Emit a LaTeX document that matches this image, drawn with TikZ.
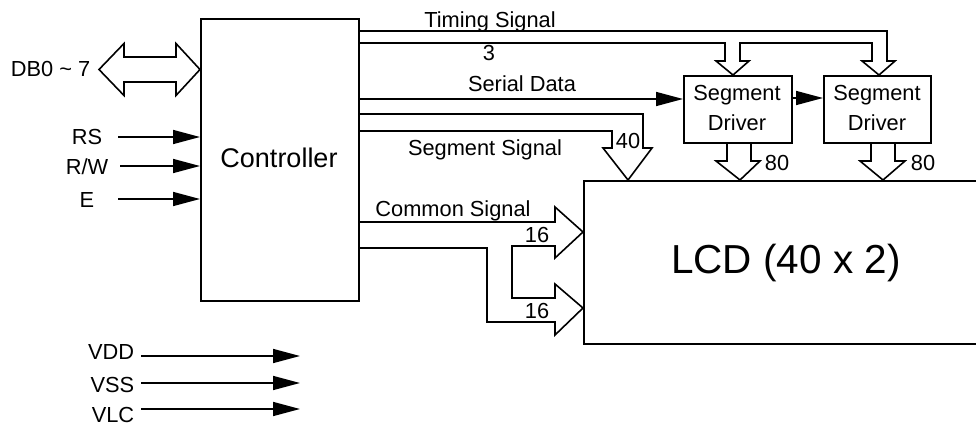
\documentclass[tikz,border=0pt]{standalone}
\usepackage{fontspec}
\setmainfont{Liberation Sans}
\usetikzlibrary{arrows.meta}
\begin{document}
\begin{tikzpicture}[x=1pt,y=-1pt,line width=1.6pt,line join=miter,
  sig/.style={-{Triangle[length=27pt,width=14pt]}},
  blk/.style={draw,line width=1.6pt,anchor=north west,inner sep=0pt},
  lbl/.style={font=\fontsize{21.8}{25}\selectfont,inner sep=0pt}]
\path[use as bounding box] (0,0) rectangle (976,428);
\clip (0,0) rectangle (976,428);
% blocks
\node[blk,minimum width=158pt,minimum height=282pt] (ctrl) at (200,18) {};
\node[lbl,font=\fontsize{27}{30}\selectfont,anchor=base] (ctrlt) at (279,167) {Controller};
\node[blk,minimum width=108pt,minimum height=67pt] (sd1) at (683,75) {};
\node[blk,minimum width=107pt,minimum height=67pt] (sd2) at (823,75) {};
\node[lbl,anchor=base] (sd1a) at (737,100) {Segment};
\node[lbl,anchor=base] (sd1b) at (737,130) {Driver};
\node[lbl,anchor=base] (sd2a) at (877,100) {Segment};
\node[lbl,anchor=base] (sd2b) at (877,130) {Driver};
\node[blk,minimum width=420pt,minimum height=163pt] (lcd) at (583,180) {};
\node[lbl,font=\fontsize{40.5}{44}\selectfont,anchor=base] (lcdt) at (786,273) {LCD (40 x 2)};
% left inputs
\node[lbl,anchor=base east] (db) at (91,77) {DB0 \textasciitilde\ 7};
\draw (99,69.5) -- (124,43.5) -- (124,57) -- (176,57) -- (176,43.5) -- (ctrl.west |- 0,69.5)
  -- (176,95.5) -- (176,82) -- (124,82) -- (124,95.5) -- cycle;
\node[lbl,anchor=base east] (rs) at (103,144) {RS};
\node[lbl,anchor=base east] (rw) at (109,174) {R/W};
\node[lbl,anchor=base east] (en) at (95,207) {E};
\draw[sig] (118,137) -- (ctrl.west |- 0,137);
\draw[sig] (120,166) -- (ctrl.west |- 0,166);
\draw[sig] (118,199) -- (ctrl.west |- 0,199);
% power
\node[lbl,anchor=base east] (vdd) at (135,359) {VDD};
\node[lbl,anchor=base east] (vss) at (135,392) {VSS};
\node[lbl,anchor=base east] (vlc) at (135,422) {VLC};
\coordinate (vddend) at (300,356);
\coordinate (vssend) at (300,383);
\coordinate (vlcend) at (300,409);
\draw[sig] (141,356) -- (vddend);
\draw[sig] (141,383) -- (vssend);
\draw[sig] (141,409) -- (vlcend);
% timing signal bus
\node[lbl,anchor=base] (tim) at (490,28) {Timing Signal};
\node[lbl,anchor=base] (three) at (489,60) {3};
\draw (ctrl.east |- 0,31) -- (887,31) -- (887,61) -- (895,61) -- (879,75) -- (862,61) -- (872,61)
  -- (872,43) -- (740,43) -- (740,61) -- (749,61) -- (733,75) -- (716,61) -- (725,61) -- (725,43) -- (ctrl.east |- 0,43);
% serial data
\node[lbl,anchor=base] (ser) at (522,91) {Serial Data};
\draw[sig] (ctrl.east |- 0,99) -- (sd1.west |- 0,99);
\draw[sig] (sd1.east |- 0,98) -- (sd2.west |- 0,98);
% segment signal bus
\node[lbl,anchor=base] (segs) at (485,155) {Segment Signal};
\node[lbl,anchor=base] (forty) at (628,148) {40};
\draw (ctrl.east |- 0,114) -- (643,114) -- (643,148) -- (652,148) -- (628,180) -- (603,148) -- (612,148)
  -- (612,131) -- (ctrl.east |- 0,131);
% driver outputs
\draw (727,142) -- (727,161) -- (716,161) -- (740,180) -- (760,161) -- (751,161) -- (751,142);
\draw (871,142) -- (871,161) -- (860,161) -- (883,180) -- (905,161) -- (895,161) -- (895,142);
\node[lbl,anchor=base] (e1) at (777,170) {80};
\node[lbl,anchor=base] (e2) at (923,170) {80};
% common signal bus
\node[lbl,anchor=base] (com) at (453,216) {Common Signal};
\node[lbl,anchor=base] (s1) at (537,242) {16};
\node[lbl,anchor=base] (s2) at (537,318) {16};
\draw (ctrl.east |- 0,222) -- (555,222) -- (555,207) -- (lcd.west |- 0,232) -- (555,258) -- (555,246) -- (512,246)
  -- (512,298) -- (555,298) -- (555,284) -- (lcd.west |- 0,308) -- (555,335) -- (555,322) -- (487,322)
  -- (487,248) -- (ctrl.east |- 0,248);
\end{tikzpicture}
\end{document}
